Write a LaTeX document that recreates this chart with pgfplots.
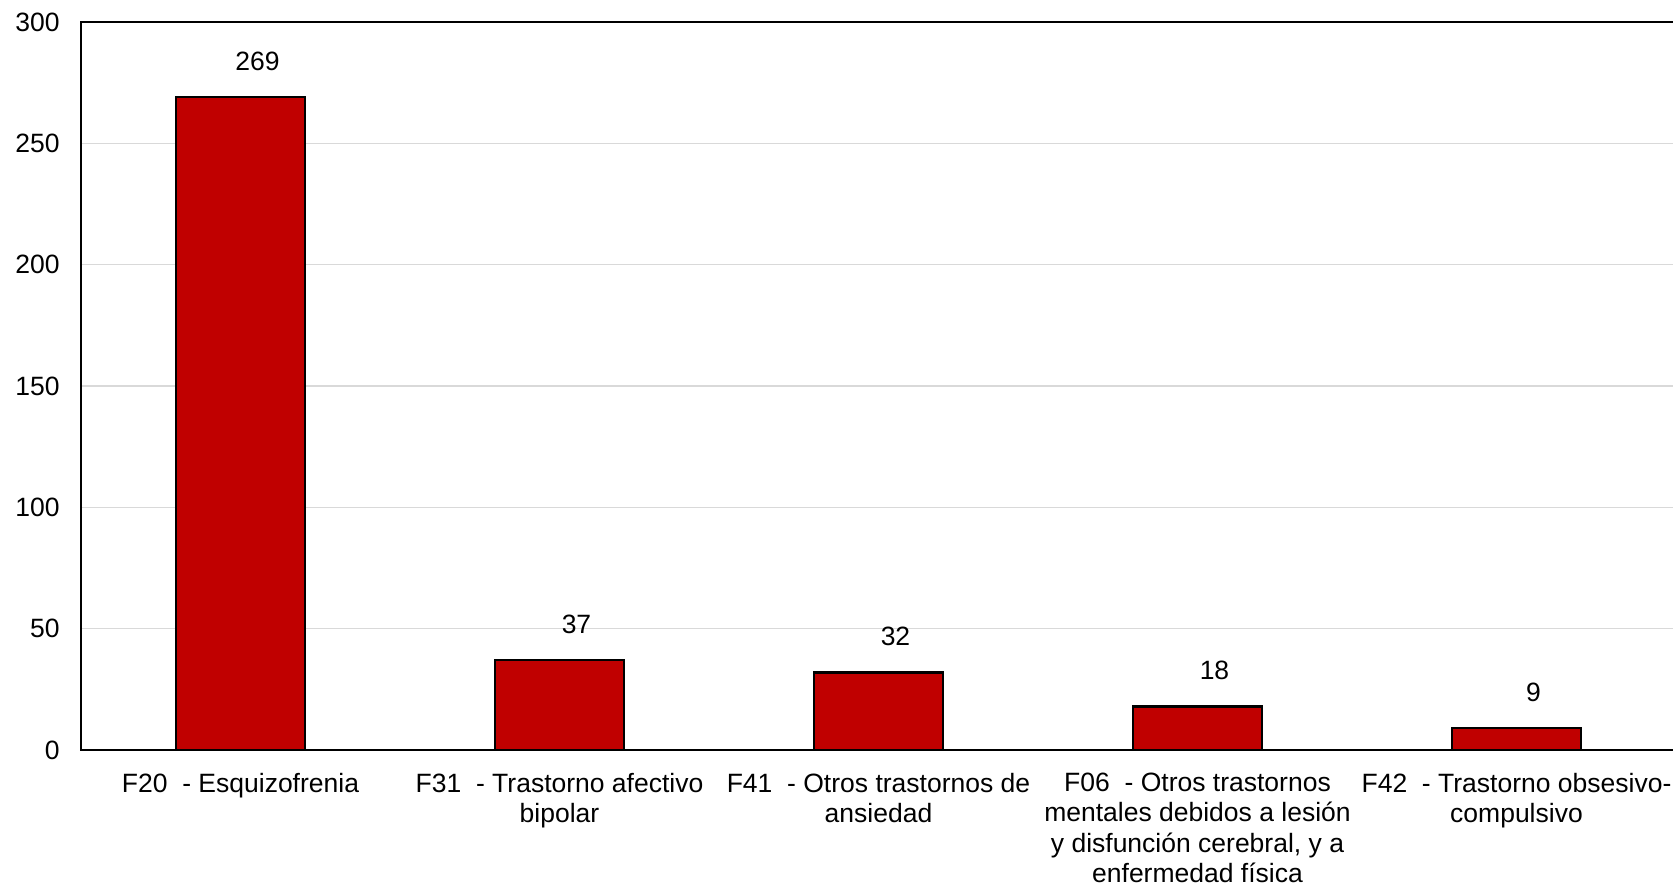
\documentclass[border=0pt]{standalone}
\usepackage{pgfplots}
\pgfplotsset{compat=1.18}
\usepackage{fontspec}
\setmainfont{Liberation Sans}
\definecolor{barred}{HTML}{C00000}
\definecolor{gridgray}{HTML}{D9D9D9}
\begin{document}
\begin{tikzpicture}
\useasboundingbox (-32.4pt,-54pt) rectangle (636.8pt,300pt);
\begin{axis}[
  at={(0,0)}, anchor=south west,
  scale only axis,
  width=638pt, height=291.2pt,
  xmin=-0.5, xmax=4.5,
  ymin=0, ymax=300,
  ytick={0,50,100,150,200,250,300},
  xtick={0,1,2,3,4},
  xticklabels={
    {F20\ \ - Esquizofrenia},
    {F31\ \ - Trastorno afectivo\\bipolar},
    {F41\ \ - Otros trastornos de\\ansiedad},
    {F06\ \ - Otros trastornos\\mentales debidos a lesión\\y disfunción cerebral, y a\\enfermedad física},
    {F42\ \ - Trastorno obsesivo-\\compulsivo}},
  xticklabel style={align=center, font=\fontsize{10.6}{12.2}\selectfont, yshift=-5.6pt},
  yticklabel style={font=\fontsize{10.6}{12}\selectfont, xshift=-5pt},
  /pgf/number format/assume math mode=true,
  major tick length=0pt,
  ymajorgrids,
  grid style={gridgray, line width=0.6pt},
  axis line style={black, line width=0.9pt},
  ybar,
  bar width=51.6pt,
  nodes near coords,
  nodes near coords style={font=\fontsize{10.6}{12}\selectfont, anchor=center, yshift=14.2pt, xshift=6.8pt},
]
\addplot[fill=barred, draw=black, line width=1pt] coordinates {(0,269) (1,37) (2,32) (3,18) (4,9)};
\end{axis}
\end{tikzpicture}
\end{document}
